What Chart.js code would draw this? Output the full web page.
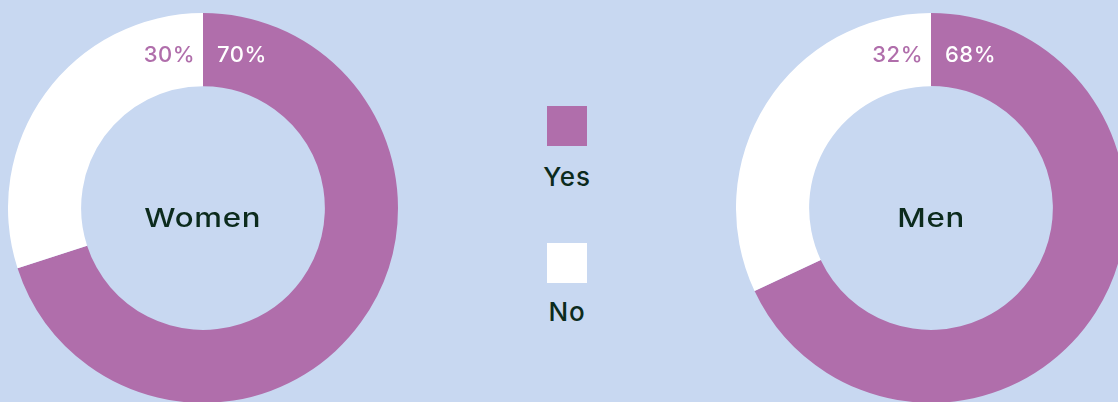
<!DOCTYPE html>
<html>
<head>
<meta charset="utf-8">
<script src="https://cdn.jsdelivr.net/npm/chart.js@4"></script>
<style>
  html, body { margin:0; padding:0; width:1118px; height:402px; overflow:hidden; background:#c8d8f1; }
  .wrap { position:absolute; width:390px; height:390px; top:13px; }
  #w1 { left:8px; }
  #w2 { left:736px; }
  .center { position:absolute; left:0; top:9px; width:390px; height:390px; display:flex; align-items:center; justify-content:center;
    font-family:Inter, sans-serif; font-size:26px; font-weight:500; color:#0c2b1d; letter-spacing:0.6px; pointer-events:none; }
  .center span { display:inline-block; transform:scaleX(1.2); }
  .legend { position:absolute; left:527px; width:80px; font-family:Inter, sans-serif; font-size:26px; font-weight:500; color:#0c2b1d; text-align:center; letter-spacing:0.8px; }
  .sw { width:40px; height:40px; margin:0 auto; }
</style>
</head>
<body>
<div class="wrap" id="w1"><canvas id="c1" width="390" height="390"></canvas><div class="center"><span id="t1"></span></div></div>
<div class="wrap" id="w2"><canvas id="c2" width="390" height="390"></canvas><div class="center"><span id="t2"></span></div></div>
<div class="legend" id="legend" style="top:106px;"></div>
<script>
const categories = ["Yes", "No"];
const groups = ["Women", "Men"];
const womenValues = [70, 30];
const menValues = [68, 32];
const colors = ["#b06eab", "#ffffff"];
const labelColors = ["#ffffff", "#b06eab"];

const labelPlugin = {
  id: 'pctLabels',
  afterDatasetsDraw(chart) {
    const ctx = chart.ctx;
    const meta = chart.getDatasetMeta(0);
    const data = chart.data.datasets[0].data;
    ctx.save();
    ctx.font = '500 22px Inter, sans-serif';
    ctx.textBaseline = 'middle';
    if ('letterSpacing' in ctx) ctx.letterSpacing = '0.5px';
    meta.data.forEach((arc, i) => {
      const p = arc.getProps(['x','y','innerRadius','outerRadius'], true);
      const r = (p.innerRadius + p.outerRadius) / 2 - 6;
      ctx.fillStyle = labelColors[i];
      const y = p.y - r;
      if (i === 0) { ctx.textAlign = 'left'; ctx.fillText(data[i] + '%', p.x + 14, y); }
      else { ctx.textAlign = 'right'; ctx.fillText(data[i] + '%', p.x - 8, y); }
    });
    ctx.restore();
  }
};

function make(id, values, title, tid) {
  new Chart(document.getElementById(id), {
    type: 'doughnut',
    data: { labels: categories, datasets: [{ data: values, backgroundColor: colors, borderWidth: 0 }] },
    options: {
      responsive: false, animation: false, cutout: '62.5%', rotation: 0,
      layout: { padding: 0 },
      plugins: { legend: { display: false }, tooltip: { enabled: false } }
    },
    plugins: [labelPlugin]
  });
  document.getElementById(tid).textContent = title;
}
make('c1', womenValues, groups[0], 't1');
make('c2', menValues, groups[1], 't2');

const lg = document.getElementById('legend');
categories.forEach((c, i) => {
  const sw = document.createElement('div'); sw.className = 'sw'; sw.style.background = colors[i];
  const t = document.createElement('div'); t.textContent = c;
  t.style.height = '97px'; t.style.lineHeight = '62px';
  if (i === 1) t.style.lineHeight = '58px';
  lg.appendChild(sw); lg.appendChild(t);
});
</script>
</body>
</html>
